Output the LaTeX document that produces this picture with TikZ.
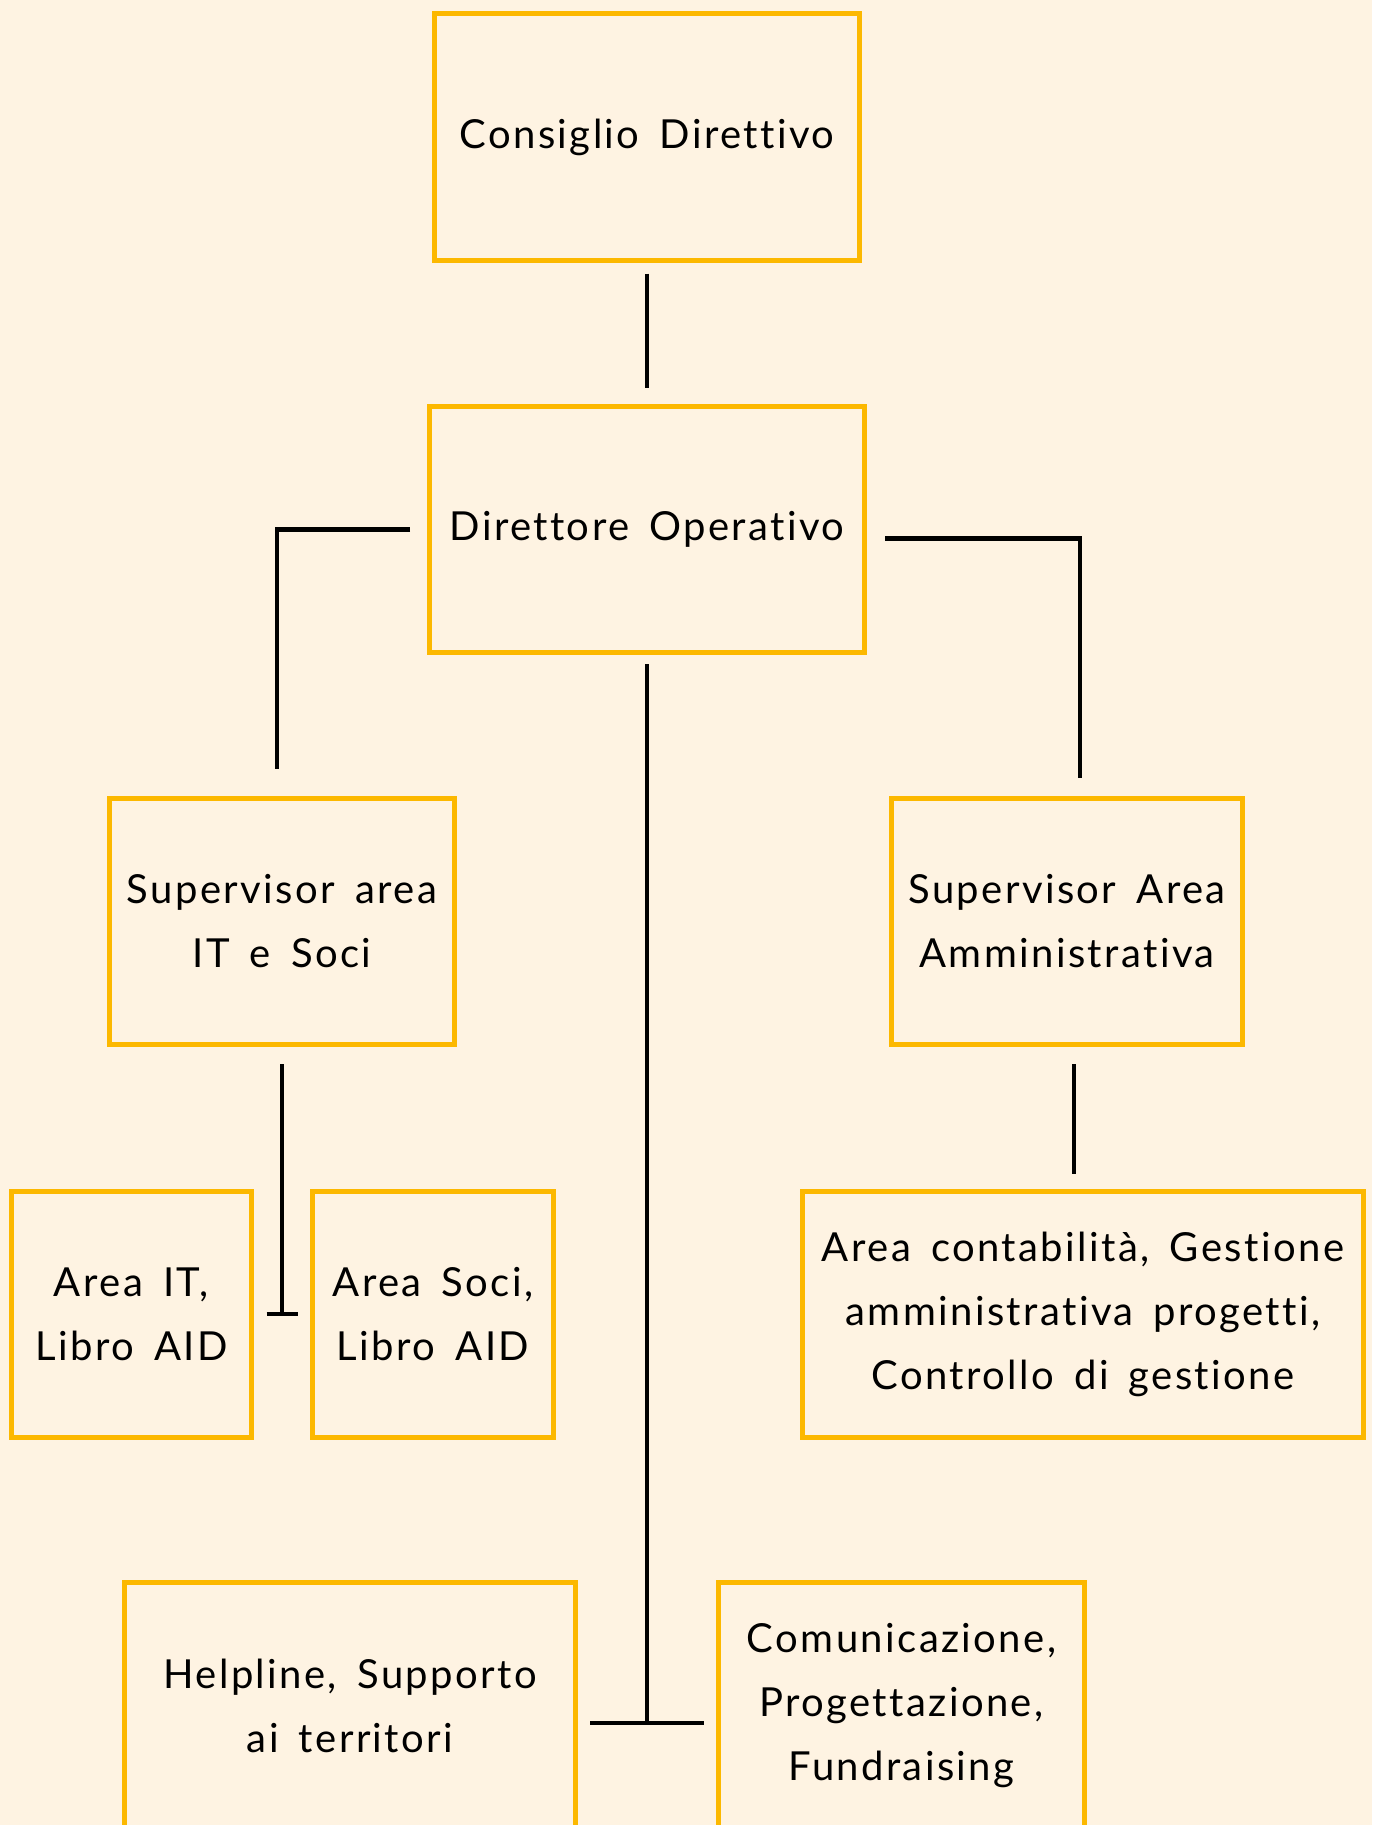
\documentclass[tikz,border=0pt]{standalone}
\usepackage{fontspec}
\setmainfont{Lato}[LetterSpace=6,WordSpace=1.6,Ligatures=NoCommon]
\definecolor{crema}{RGB}{254,243,226}
\definecolor{ocra}{RGB}{252,184,0}
\usetikzlibrary{calc}

\begin{document}
\begin{tikzpicture}[
    x=0.5pt, y=-0.5pt,
    font=\fontsize{20}{32}\selectfont,
    ufficio/.style={rectangle, draw=ocra, line width=2.5pt, align=center,
      inner sep=0pt, minimum height=123pt},
    linea/.style={line width=2.4pt}
  ]
    \clip (0,0) rectangle (1372,1825);
    \fill[crema] (0,0) rectangle (1372,1825);

    \node[ufficio, minimum width=212.5pt] (cd) at (647,137) {Consiglio Direttivo};
    \node[ufficio, minimum width=217.5pt] (dir) at (647,529.5) {Direttore Operativo};
    \node[ufficio, minimum width=172.5pt] (supit) at (282,921.5) {Supervisor area\\IT e Soci};
    \node[ufficio, minimum width=175.5pt] (supam) at (1067,921.5) {Supervisor Area\\Amministrativa};
    \node[ufficio, minimum width=120pt] (ait) at (131.5,1314) {Area IT,\\Libro AID};
    \node[ufficio, minimum width=120.5pt] (aso) at (433,1314) {Area Soci,\\Libro AID};
    \node[ufficio, minimum width=280.5pt] (acg) at (1083,1314) {Area contabilità, Gestione\\amministrativa progetti,\\Controllo di gestione};
    \node[ufficio, minimum width=225.5pt] (hel) at (350,1705.5) {Helpline, Supporto\\ai territori};
    \node[ufficio, minimum width=183pt] (com) at (901.5,1705.5) {Comunicazione,\\Progettazione,\\Fundraising};

    \coordinate (giuntoit) at (supit.south |- ait);
    \coordinate (giuntobasso) at (647,1723);

    \draw[linea, shorten <=5.5pt, shorten >=8pt] (cd) -- (dir);
    \draw[linea, shorten <=8.5pt, shorten >=13.5pt] (dir.west) -| ([xshift=-2.5pt]supit.north);
    \draw[linea, shorten <=9pt, shorten >=9pt] ([yshift=-4.5pt]dir.east) -| ([xshift=6.5pt]supam.north);
    \draw[linea, shorten <=4.5pt] (dir) -- (giuntobasso);
    \draw[linea] ([xshift=-28.5pt]giuntobasso) -- ([xshift=28.5pt]giuntobasso);
    \draw[linea, shorten <=8.5pt] (supit.south) -- (giuntoit);
    \draw[linea] ([xshift=-7.75pt]giuntoit) -- ([xshift=7.75pt]giuntoit);
    \draw[linea, shorten <=8.5pt, shorten >=7.5pt] ([xshift=3.5pt]supam.south) -- ([xshift=3.5pt]supam.south |- acg.north);
  \end{tikzpicture}
\end{document}
